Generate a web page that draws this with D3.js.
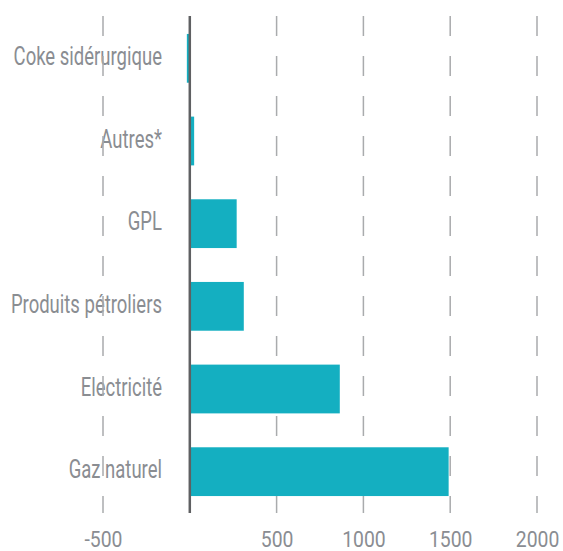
<!DOCTYPE html>
<html>
<head>
<meta charset="utf-8">
<script src="https://cdn.jsdelivr.net/npm/d3@7"></script>
<style>
  html, body { margin: 0; padding: 0; background: #fff; }
  text { font-family: Roboto, "Noto Sans", sans-serif; fill: #8a8d92; }
</style>
</head>
<body>
<div id="chart"></div>
<script>
// Data
const categories = ["Coke sidérurgique", "Autres*", "GPL", "Produits pétroliers", "Electricité", "Gaz naturel"];
const values = [-17, 25, 270, 311, 864, 1491];
const tickValues = [-500, 500, 1000, 1500, 2000];
const xDomain = [-500, 2000];

class BarChart {
    constructor(selector) {
        this.selector = selector;
        this.width = 563;
        this.height = 551;
        this.margin = {top: 17, right: 26, bottom: 38, left: 103};
        this.labelX = 162;
        this.condense = 0.74; // narrow the labels, reference font is condensed
    }

    init() {
        this.svg = d3.select(this.selector)
            .append("svg")
            .attr("width", this.width)
            .attr("height", this.height);

        this.data = categories.map((c, i) => ({name: c, value: values[i]}));
        this.createScales();
        this.createLabels();
        this.createGrid();
        this.createBars();
        this.createAxes();
    }

    createScales() {
        this.x = d3.scaleLinear()
            .domain(xDomain)
            .range([this.margin.left, this.width - this.margin.right]);

        this.y = d3.scaleBand()
            .domain(categories)
            .range([this.margin.top, this.height - this.margin.bottom])
            .paddingInner(0.41)
            .paddingOuter(0.205);
    }

    createLabels() {
        // category labels (drawn under the gridlines, like the reference)
        this.svg.append("g")
            .selectAll("text")
            .data(categories)
            .join("text")
            .attr("transform", d => `translate(${this.labelX},${this.y(d) + this.y.bandwidth() / 2 + 6.5}) scale(${this.condense},1)`)
            .attr("text-anchor", "end")
            .attr("font-size", 25)
            .text(d => d);
    }

    createGrid() {
        // dashed vertical gridlines
        this.svg.append("g")
            .selectAll("line")
            .data(tickValues)
            .join("line")
            .attr("x1", d => this.x(d))
            .attr("x2", d => this.x(d))
            .attr("y1", this.margin.top - 1)
            .attr("y2", this.height - this.margin.bottom)
            .attr("stroke", "#a9abad")
            .attr("stroke-width", 1.5)
            .attr("stroke-dasharray", "20,20");
    }

    createBars() {
        this.svg.append("g")
            .selectAll("rect")
            .data(this.data)
            .join("rect")
            .attr("x", d => this.x(Math.min(0, d.value)))
            .attr("width", d => Math.abs(this.x(d.value) - this.x(0)))
            .attr("y", d => this.y(d.name))
            .attr("height", this.y.bandwidth())
            .attr("fill", "#14afc1");
    }

    createAxes() {
        // zero line
        this.svg.append("line")
            .attr("x1", this.x(0))
            .attr("x2", this.x(0))
            .attr("y1", this.margin.top - 1)
            .attr("y2", this.height - this.margin.bottom)
            .attr("stroke", "#5f6062")
            .attr("stroke-width", 2.5);

        // x tick labels
        const xAxis = d3.axisBottom(this.x)
            .tickValues(tickValues)
            .tickSize(0)
            .tickPadding(0)
            .tickFormat(d => String(d));

        const g = this.svg.append("g")
            .attr("transform", `translate(0,${this.height - 4})`)
            .call(xAxis);
        g.select(".domain").remove();
        g.selectAll("text")
            .attr("font-size", 22)
            .attr("dy", null)
            .attr("y", 0)
            .attr("transform", "scale(0.88,1)")
            .style("font-family", "Roboto, sans-serif")
            .attr("fill", "#8a8d92");
    }
}

new BarChart("#chart").init();
</script>
</body>
</html>
